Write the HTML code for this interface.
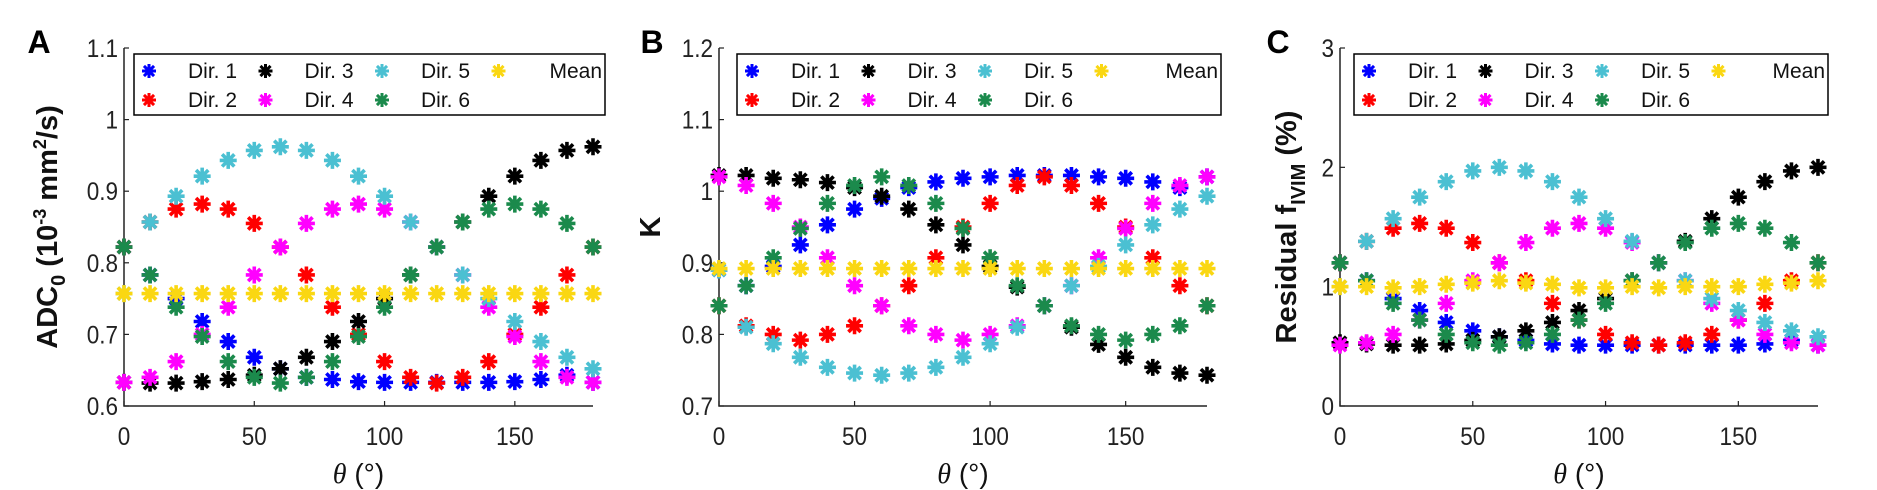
<!DOCTYPE html>
<html><head><meta charset="utf-8"><style>
body{margin:0;background:#fff;}
svg{display:block;font-family:"Liberation Sans",sans-serif;}
</style></head><body>
<svg id="fig" width="1877" height="490" viewBox="0 0 1877 490"></svg>
<script>
const NS='http://www.w3.org/2000/svg';
const theta=[0,10,20,30,40,50,60,70,80,90,100,110,120,130,140,150,160,170,180];
const seriesNames=['Dir. 1','Dir. 2','Dir. 3','Dir. 4','Dir. 5','Dir. 6','Mean'];
const colors=['#0000ff','#ff0000','#000000','#ff00ff','#4bc0d2','#1b8a4c','#fad712'];
// Panel A: ADC0
const adcDir1=[0.822,0.783,0.75,0.718,0.69,0.668,0.652,0.64,0.637,0.634,0.633,0.633,0.633,0.633,0.633,0.634,0.637,0.643,0.633];
const adcDir2=[0.822,0.857,0.875,0.882,0.875,0.855,0.822,0.783,0.738,0.70,0.662,0.64,0.632,0.64,0.662,0.70,0.738,0.783,0.822];
const adcDir3=[0.633,0.632,0.632,0.634,0.637,0.643,0.652,0.668,0.69,0.718,0.75,0.783,0.822,0.857,0.893,0.921,0.943,0.957,0.962];
const adcDir4=[0.633,0.64,0.662,0.70,0.738,0.783,0.822,0.855,0.875,0.882,0.875,0.857,0.822,0.783,0.738,0.697,0.662,0.64,0.633];
const adcDir5=[0.757,0.857,0.893,0.921,0.943,0.957,0.962,0.957,0.943,0.921,0.893,0.857,0.822,0.783,0.75,0.718,0.69,0.668,0.652];
const adcDir6=[0.822,0.783,0.738,0.697,0.662,0.64,0.632,0.64,0.662,0.697,0.738,0.783,0.822,0.857,0.875,0.882,0.875,0.855,0.822];
const adcMean=[0.757,0.757,0.757,0.757,0.757,0.757,0.757,0.757,0.757,0.757,0.757,0.757,0.757,0.757,0.757,0.757,0.757,0.757,0.757];
// Panel B: K
const kDir1=[0.89,0.868,0.895,0.925,0.953,0.975,0.99,1.005,1.013,1.018,1.02,1.022,1.022,1.022,1.02,1.018,1.013,1.005,1.02];
const kDir2=[0.84,0.812,0.80,0.792,0.80,0.812,0.84,0.868,0.907,0.95,0.983,1.008,1.02,1.008,0.983,0.95,0.907,0.868,0.84];
const kDir3=[1.022,1.022,1.018,1.016,1.012,1.005,0.993,0.975,0.953,0.925,0.895,0.866,0.84,0.81,0.786,0.768,0.754,0.746,0.743];
const kDir4=[1.02,1.008,0.983,0.95,0.907,0.868,0.84,0.812,0.80,0.792,0.80,0.812,0.84,0.868,0.907,0.948,0.983,1.008,1.02];
const kDir5=[0.89,0.81,0.787,0.768,0.754,0.746,0.743,0.746,0.754,0.768,0.787,0.81,0.84,0.868,0.895,0.925,0.953,0.975,0.993];
const kDir6=[0.84,0.868,0.907,0.948,0.983,1.008,1.02,1.008,0.983,0.948,0.907,0.868,0.84,0.812,0.80,0.792,0.80,0.812,0.84];
const kMean=[0.892,0.892,0.892,0.892,0.892,0.892,0.892,0.892,0.892,0.892,0.892,0.892,0.892,0.892,0.892,0.892,0.892,0.892,0.892];
// Panel C: residual fIVIM
const fDir1=[1.2,1.05,0.9,0.8,0.7,0.63,0.58,0.55,0.52,0.51,0.51,0.51,0.51,0.51,0.51,0.51,0.52,0.55,0.51];
const fDir2=[1.2,1.38,1.49,1.53,1.49,1.37,1.2,1.05,0.86,0.72,0.6,0.53,0.51,0.53,0.6,0.72,0.86,1.05,1.2];
const fDir3=[0.53,0.52,0.51,0.51,0.52,0.55,0.58,0.63,0.7,0.8,0.9,1.05,1.2,1.38,1.57,1.75,1.88,1.97,2.0];
const fDir4=[0.51,0.53,0.6,0.72,0.86,1.05,1.2,1.37,1.49,1.53,1.49,1.37,1.2,1.05,0.86,0.72,0.6,0.53,0.51];
const fDir5=[1.0,1.38,1.57,1.75,1.88,1.97,2.0,1.97,1.88,1.75,1.57,1.38,1.2,1.05,0.9,0.8,0.7,0.63,0.58];
const fDir6=[1.2,1.05,0.86,0.72,0.6,0.53,0.51,0.53,0.6,0.72,0.86,1.05,1.2,1.37,1.49,1.53,1.49,1.37,1.2];
const fMean=[1.0,1.0,0.99,1.0,1.02,1.03,1.05,1.03,1.02,0.99,0.99,1.0,0.99,1.0,1.0,1.0,1.02,1.03,1.05];
const xTicks=[0,50,100,150];
const yTicksA=['0.6','0.7','0.8','0.9','1','1.1'];
const yTicksB=['0.7','0.8','0.9','1','1.1','1.2'];
const yTicksC=['0','1','2','3'];

const svg=document.getElementById('fig');
function el(tag,attrs,parent){const e=document.createElementNS(NS,tag);for(const k in attrs)e.setAttribute(k,attrs[k]);(parent||svg).appendChild(e);return e;}
function star(g,cx,cy,c,r,w){
  const d=r*0.72;
  return el('path',{d:`M${cx-r},${cy}H${cx+r}M${cx},${cy-r}V${cy+r}M${cx-d},${cy-d}L${cx+d},${cy+d}M${cx-d},${cy+d}L${cx+d},${cy-d}`,stroke:c,'stroke-width':w,fill:'none'},g);
}
function panel(id,L,R,ymin,ymax,yTicks,series,legX,letter){
  const T=48,B=406;
  const g=el('g',{});
  
  
  const xs=v=>L+(v-0)/(180-0)*(R-L);
  const ys=v=>B-(v-ymin)/(ymax-ymin)*(B-T);
  const ax=el('path',{d:`M${L},${T}V${B}H${R}`,stroke:'#222','stroke-width':1.5,fill:'none'},g);
  
  
  xTicks.forEach(t=>{
    el('line',{x1:xs(t),x2:xs(t),y1:B,y2:B-5,stroke:'#222','stroke-width':1.2},g);
    const tx=el('text',{x:xs(t),y:445,'font-size':25,'text-anchor':'middle',fill:'#222',transform:`translate(${xs(t)*0.1} 0) scale(0.9 1)`},g);
    tx.textContent=t;
    
    
  });
  yTicks.forEach(t=>{
    const v=parseFloat(t);
    el('line',{x1:L,x2:L+5,y1:ys(v),y2:ys(v),stroke:'#222','stroke-width':1.2},g);
    const tx=el('text',{x:L-6,y:ys(v)+9,'font-size':25,'text-anchor':'end',fill:'#222',transform:`translate(${(L-6)*0.1} 0) scale(0.9 1)`},g);
    tx.textContent=t;
    
    
  });
  series.forEach((s,i)=>{
    const sg=el('g',{},g);
    
    
    s.forEach((v,j)=>{const m=star(sg,xs(theta[j]),ys(v),colors[i],8.5,3.6);
      
      });
  });
  const lg=el('g',{},g);
  
  
  const lw=R-L-4+(id==='a'?6:0);
  el('rect',{x:legX,y:54,width:lw,height:61,fill:'#fff',stroke:'#000','stroke-width':1.5},lg);
  const colW=116.5;
  seriesNames.forEach((n,i)=>{
    const col=Math.floor(i/2),row=i%2;
    const mx=legX+15+col*colW, my=row?100:71;
    star(lg,mx,my,colors[i],7,3);
    const tx=el('text',{x:n==='Mean'?legX+lw-3:mx+39,y:my+7,'font-size':21,fill:'#111','text-anchor':n==='Mean'?'end':'start'},lg);
    tx.textContent=n;
    
    
  });
  const xl=el('text',{x:(L+R)/2,y:483,'font-size':28,'text-anchor':'middle',fill:'#111'},g);
  xl.innerHTML='<tspan font-family="Liberation Serif" font-style="italic">θ</tspan> (°)';
  
  
  const pl=el('text',{x:letter[1],y:53,'font-size':32,'font-weight':'bold',fill:'#000','text-anchor':'middle'},g);
  pl.textContent=letter[0];
  
  
  return g;
}
panel('a',124,593,0.6,1.1,yTicksA,[adcDir1,adcDir2,adcDir3,adcDir4,adcDir5,adcDir6,adcMean],134,['A',39]);
panel('b',719,1207,0.7,1.2,yTicksB,[kDir1,kDir2,kDir3,kDir4,kDir5,kDir6,kMean],737,['B',652]);
panel('c',1340,1818,0,3,yTicksC,[fDir1,fDir2,fDir3,fDir4,fDir5,fDir6,fMean],1354,['C',1278]);

function ylabel(x,y,html,name){
  const t=el('text',{x:x,y:y,'font-size':29,'font-weight':'bold','text-anchor':'middle',fill:'#111',transform:`rotate(-90 ${x} ${y})`});
  t.innerHTML=html;
  
  
}
ylabel(57,227,'ADC<tspan font-size="20" dy="8">0</tspan><tspan dy="-8"> (10</tspan><tspan font-size="18" dy="-11">-3</tspan><tspan dy="11"> mm</tspan><tspan font-size="18" dy="-11">2</tspan><tspan dy="11">/s)</tspan>','y-axis-title-adc');
ylabel(660,227,'K','y-axis-title-k');
ylabel(1296,227,'Residual f<tspan font-size="20" dy="9">IVIM</tspan><tspan dy="-9"> (%)</tspan>','y-axis-title-fivim');
</script>
</body></html>
